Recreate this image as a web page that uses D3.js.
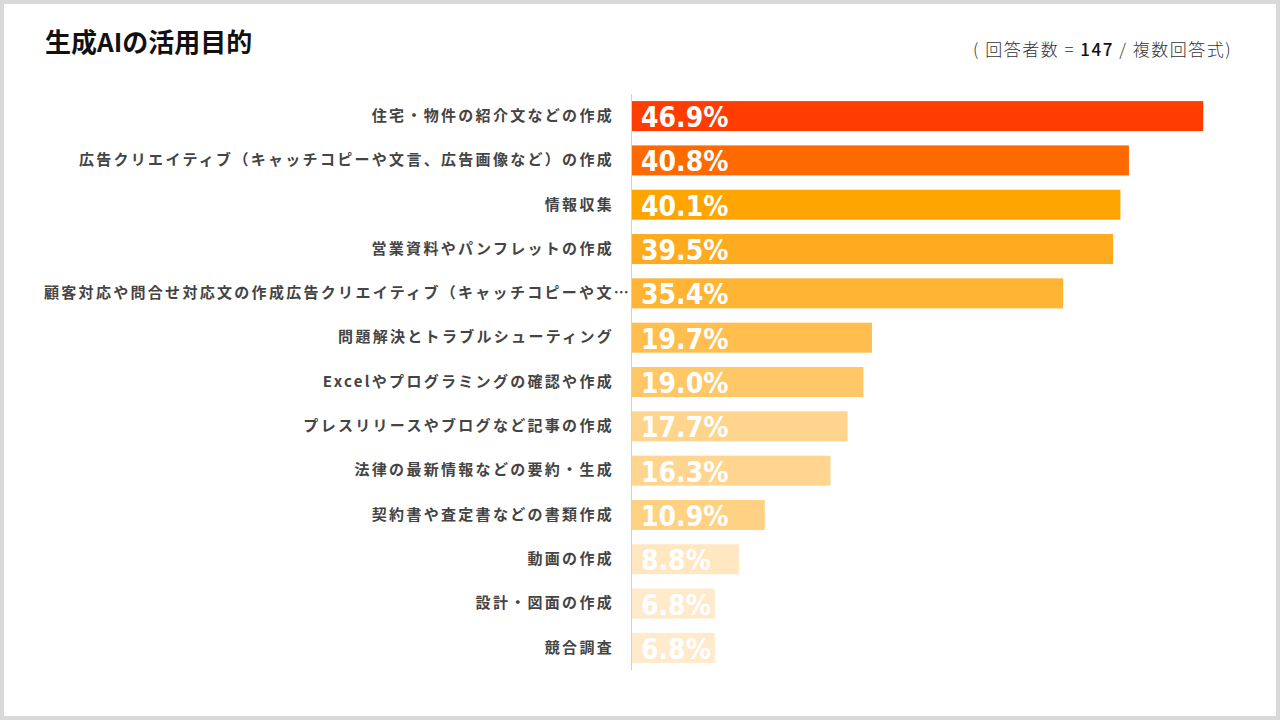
<!DOCTYPE html>
<html>
<head>
<meta charset="utf-8">
<script src="https://cdn.jsdelivr.net/npm/d3@7"></script>
<style>
  html, body { margin: 0; padding: 0; background: #fff; }
  svg { display: block; }
</style>
</head>
<body>
<div id="chart"></div>
<script>
// data
const categories = [
  '住宅・物件の紹介文などの作成',
  '広告クリエイティブ（キャッチコピーや文言、広告画像など）の作成',
  '情報収集',
  '営業資料やパンフレットの作成',
  '顧客対応や問合せ対応文の作成広告クリエイティブ（キャッチコピーや文…',
  '問題解決とトラブルシューティング',
  'Excelやプログラミングの確認や作成',
  'プレスリリースやブログなど記事の作成',
  '法律の最新情報などの要約・生成',
  '契約書や査定書などの書類作成',
  '動画の作成',
  '設計・図面の作成',
  '競合調査'
];
const values = [46.9, 40.8, 40.1, 39.5, 35.4, 19.7, 19.0, 17.7, 16.3, 10.9, 8.8, 6.8, 6.8];
const barColors = [
  '#ff3d00', '#ff6a00', '#ffa500', '#ffab1f', '#ffb433', '#ffbe4d', '#ffc766',
  '#ffd48d', '#ffd58f', '#ffd183', '#ffe7c2', '#ffeacb', '#ffeacb'
];

const width = 1280;
const height = 720;

const svg = d3.select('#chart')
  .append('svg')
  .attr('width', width)
  .attr('height', height);

// grey frame around the slide
svg.append('rect')
  .attr('x', 2).attr('y', 2)
  .attr('width', width - 4).attr('height', height - 4)
  .attr('fill', '#fff')
  .attr('stroke', '#d9d9d9')
  .attr('stroke-width', 4);

// scales
const x = d3.scaleLinear()
  .domain([0, 50])
  .range([632, 1241]);

const y = d3.scaleBand()
  .domain(categories)
  .range([94, 670])
  .paddingInner(0.323)
  .paddingOuter(0.16);

// title
svg.append('text')
  .attr('x', 45)
  .attr('y', 52)
  .style('font-family', '"Noto Sans CJK JP", sans-serif')
  .style('font-weight', 700)
  .style('font-size', '26px')
  .attr('fill', '#111')
  .text('生成AIの活用目的');

// respondent note
const note = svg.append('text')
  .attr('x', 1232)
  .attr('y', 56)
  .attr('text-anchor', 'end')
  .style('font-family', '"Noto Sans CJK JP", sans-serif')
  .style('font-weight', 300)
  .style('font-size', '17px')
  .style('letter-spacing', '1.5px')
  .attr('fill', '#333');
note.append('tspan').text('( 回答者数 = ');
note.append('tspan').style('font-weight', 500).attr('fill', '#111').text('147');
note.append('tspan').text(' / 複数回答式)');

// bars
const defs = svg.append('defs');
defs.selectAll('clipPath')
  .data(values)
  .enter()
  .append('clipPath')
  .attr('id', (d, i) => 'clip' + i)
  .append('rect')
  .attr('x', x(0))
  .attr('y', (d, i) => y(categories[i]))
  .attr('width', d => x(d) - x(0))
  .attr('height', y.bandwidth());

svg.selectAll('.bar')
  .data(values)
  .enter()
  .append('rect')
  .attr('class', 'bar')
  .attr('x', x(0))
  .attr('y', (d, i) => y(categories[i]))
  .attr('width', d => x(d) - x(0))
  .attr('height', y.bandwidth())
  .attr('fill', (d, i) => barColors[i]);

// value labels inside bars
svg.selectAll('.val')
  .data(values)
  .enter()
  .append('text')
  .attr('class', 'val')
  .attr('clip-path', (d, i) => 'url(#clip' + i + ')')
  .attr('x', x(0) + 9)
  .attr('y', (d, i) => y(categories[i]) + y.bandwidth() / 2 + 11)
  .style('font-family', '"DejaVu Sans Condensed", "DejaVu Sans", sans-serif')
  .style('font-stretch', 'condensed')
  .style('font-weight', 700)
  .style('font-size', '28px')
  .attr('fill', '#fff')
  .text(d => d.toFixed(1) + '%');

// category axis
const axis = svg.append('g')
  .attr('transform', `translate(${x(0)}, 0)`)
  .call(d3.axisLeft(y).tickSize(0).tickPadding(18));
axis.select('.domain')
  .attr('d', 'M-0.5,94V670')
  .attr('stroke', '#d0d0d0');
axis.selectAll('text')
  .style('font-family', '"Noto Sans CJK JP", sans-serif')
  .style('font-weight', 700)
  .style('font-size', '15px')
  .style('letter-spacing', '2.3px')
  .attr('fill', '#444');
// the truncated label runs up to the axis line in the reference
axis.selectAll('text')
  .filter(d => d.endsWith('…'))
  .attr('dx', 17);
</script>
</body>
</html>
